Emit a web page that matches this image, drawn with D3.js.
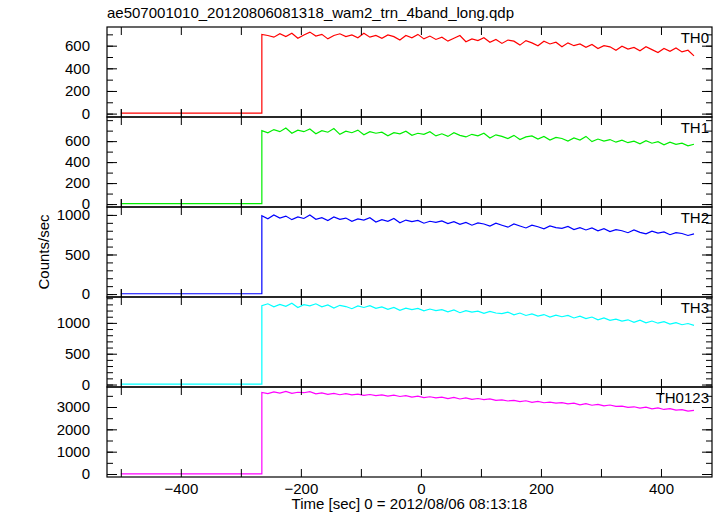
<!DOCTYPE html>
<html><head><meta charset="utf-8">
<script src="https://cdn.jsdelivr.net/npm/d3@7"></script>
<style>body{margin:0;background:#fff}text{font-family:"Liberation Sans",Arial,sans-serif}</style>
</head><body><svg id="c" width="717" height="516"></svg>
<script>
const burstStart = -265, step = 10, preStart = -500;
const panelNames = ["TH0","TH1","TH2","TH3","TH0123"];
const panelColors = ["#ff0000","#00ee00","#0000ff","#00ffff","#ff00ff"];
const preLevels = [4, 4, 4, 6, 10];
const yDomains = [[-30,765],[-28,830],[-37,1100],[-40,1420],[-134,3896]];
const yMajor = [200,200,500,500,1000];
const yMinor = [100,100,100,100,500];
const th0 = [700,690,675,705,680,710,665,695,720,685,700,660,690,705,680,695,670,710,675,690,665,695,680,650,690,670,700,660,685,655,675,640,665,690,635,660,645,670,630,655,620,650,640,605,645,625,600,640,615,630,590,625,600,615,585,610,575,600,590,560,595,570,585,555,590,565,540,575,550,580,545,560,510];
const th1 = [700,680,710,690,725,675,705,690,715,670,700,685,720,665,695,680,705,660,690,675,685,650,680,670,695,655,675,665,690,650,670,645,680,655,640,665,650,675,630,660,645,625,655,615,640,650,620,645,610,635,625,600,630,610,645,595,620,600,615,590,610,585,600,575,605,580,595,565,590,570,580,555,570];
const th2 = [990,950,1000,960,985,940,975,955,1000,945,965,930,975,945,960,920,950,935,965,910,940,920,955,900,935,915,930,895,920,905,925,890,915,880,905,870,900,885,860,895,870,845,885,860,835,870,850,825,860,840,830,855,815,840,810,835,800,825,790,815,800,775,810,780,760,795,770,785,750,775,765,740,760];
const th3 = [1280,1310,1260,1300,1270,1320,1250,1295,1275,1310,1260,1290,1240,1285,1265,1230,1275,1250,1280,1235,1260,1220,1250,1205,1240,1215,1235,1195,1225,1200,1215,1180,1210,1165,1200,1175,1190,1155,1185,1160,1150,1175,1130,1160,1120,1145,1110,1135,1095,1125,1100,1120,1080,1110,1070,1095,1050,1080,1040,1060,1030,1050,1010,1045,1000,1030,995,1020,980,1005,970,990,960];
const th0123 = [3650,3600,3680,3620,3700,3610,3660,3640,3690,3590,3630,3570,3610,3550,3600,3540,3580,3520,3560,3510,3540,3490,3530,3470,3510,3440,3490,3420,3460,3410,3440,3380,3430,3360,3410,3340,3380,3330,3360,3300,3320,3270,3300,3240,3280,3210,3250,3190,3220,3170,3200,3140,3170,3100,3150,3080,3120,3050,3090,3030,3040,2980,3010,2950,2990,2920,2960,2890,2930,2860,2880,2820,2850];
const series = [th0, th1, th2, th3, th0123];
const xTicks = [-400,-200,0,200,400];

const svg = d3.select("#c");
const L=107, R=712, T=27, PH=90;
const x = d3.scaleLinear().domain([-523,485]).range([L,R]);
const xMinorTicks = d3.range(-500,481,100);

series.forEach((vals,i)=>{
  const top = T+i*PH, bot = top+PH;
  const y = d3.scaleLinear().domain(yDomains[i]).range([bot,top]);
  const pts = [[preStart,preLevels[i]],[burstStart,preLevels[i]]].concat(vals.map((v,k)=>[burstStart+k*step,v]));
  svg.append("path").datum(pts).attr("fill","none").attr("stroke",panelColors[i]).attr("stroke-width",1.2)
    .attr("d",d3.line().x(d=>x(d[0])).y(d=>y(d[1])));
  const g = svg.append("g");
  const majors = d3.range(0,yDomains[i][1],yMajor[i]).filter(v=>y(v)>top+4);
  g.append("g").attr("transform",`translate(${L},0)`)
    .call(d3.axisLeft(y).tickValues(d3.range(0,yDomains[i][1],yMinor[i])).tickSize(-6).tickFormat(""));
  g.append("g").attr("transform",`translate(${L},0)`)
    .call(d3.axisLeft(y).tickValues(majors).tickSize(-10).tickPadding(17).tickFormat(d3.format("d")));
  g.append("g").attr("transform",`translate(${R},0)`)
    .call(d3.axisRight(y).tickValues(d3.range(0,yDomains[i][1],yMinor[i])).tickSize(-6).tickFormat(""));
  g.append("g").attr("transform",`translate(${R},0)`)
    .call(d3.axisRight(y).tickValues(majors).tickSize(-10).tickFormat(""));
  g.append("g").attr("transform",`translate(0,${bot})`).call(d3.axisTop(x).tickValues(xMinorTicks).tickSize(8).tickFormat(""));
  g.append("g").attr("transform",`translate(0,${top})`).call(d3.axisBottom(x).tickValues(xMinorTicks).tickSize(8).tickFormat(""));
  if(i>0) g.append("g").attr("transform",`translate(0,${top})`).call(d3.axisTop(x).tickValues(xMinorTicks).tickSize(8).tickFormat(""));
  g.selectAll(".domain").remove();
  g.selectAll("text").attr("font-size",15).attr("fill","#000");
  g.append("rect").attr("x",L).attr("y",top).attr("width",R-L).attr("height",PH).attr("fill","none").attr("stroke","#000").attr("stroke-width",1.2);
  svg.append("text").attr("x",R-3).attr("y",top+16).attr("text-anchor","end").attr("font-size",15).text(panelNames[i]);
});
const ax = svg.append("g").attr("transform",`translate(0,${T+5*PH})`)
  .call(d3.axisBottom(x).tickValues(xTicks).tickSize(0).tickPadding(6).tickFormat(d=>d<0?"\u2212"+(-d):d));
ax.select(".domain").remove();
ax.selectAll("text").attr("font-size",15).attr("fill","#000");
svg.append("text").attr("x",L).attr("y",18).attr("font-size",15).text("ae507001010_20120806081318_wam2_trn_4band_long.qdp");
svg.append("text").attr("x",(L+R)/2).attr("y",509).attr("text-anchor","middle").attr("font-size",15).text("Time [sec] 0 = 2012/08/06 08:13:18");
svg.append("text").attr("transform","translate(49,252) rotate(-90)").attr("text-anchor","middle").attr("font-size",15).text("Counts/sec");
</script></body></html>
